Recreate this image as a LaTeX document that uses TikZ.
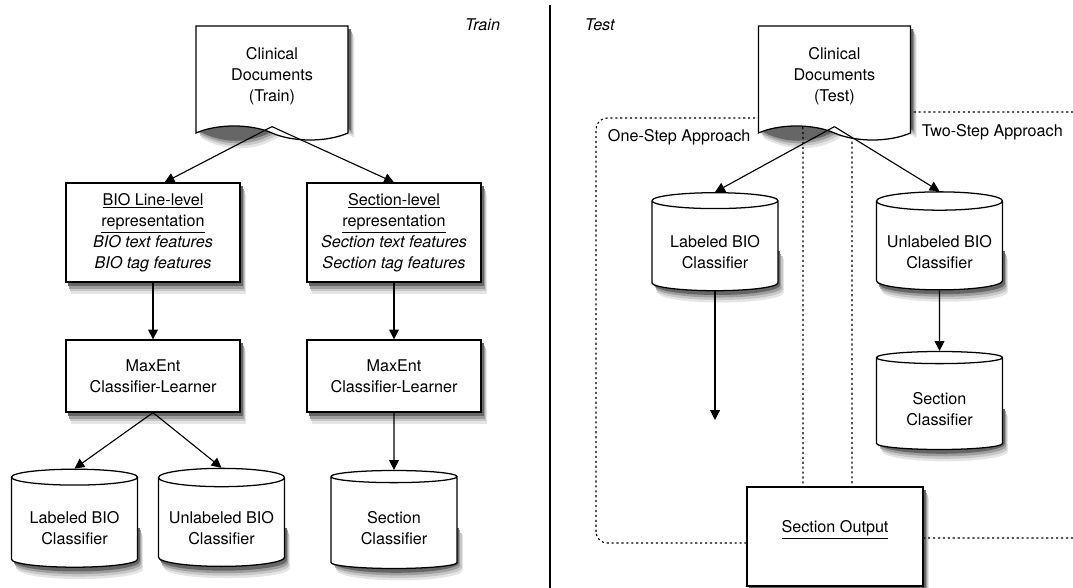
\documentclass[tikz,border=0pt]{standalone}
\usepackage{fontspec}
\setmainfont{TeX Gyre Heros}
\usetikzlibrary{shapes.geometric,shapes.symbols,arrows.meta,backgrounds}

\begin{document}
\begin{tikzpicture}[
		every node/.style={font=\fontsize{11.5pt}{14.9pt}\selectfont, align=center},
		box/.style={draw, line width=0.9pt, fill=white, minimum width=4.35cm},
		doc/.style={tape, draw, line width=0.9pt, fill=white, tape bend top=none, tape bend bottom=out and in, tape bend height=0.35cm, minimum width=3.8cm, minimum height=2.85cm},
		db/.style={cylinder, shape border rotate=90, aspect=0.16, draw, line width=0.9pt, fill=white, minimum width=3.15cm, minimum height=2.45cm, text height=1.05cm},
		region/.style={line width=0.8pt, dash pattern=on 1.5pt off 2pt, rounded corners=8pt},
		arr/.style={-{Triangle[length=7pt,width=7pt]}, line width=0.8pt},
		lbl/.style={font=\fontsize{11.5pt}{14.9pt}\selectfont\itshape}
	]
		\useasboundingbox (0, 0) rectangle (26.825, 14.7);

		\draw[region] (14.9, 1.125) rectangle (20.075, 11.75);
		\draw[region] (27.2, 11.9) -| (21.3, 1.25) -- (27.2, 1.25);
		\draw[line width=0.9pt] (13.75, 14.575) -- (13.75, 0);

		\node[lbl, anchor=east] (trainlbl) at (12.625, 14.075) {Train};
		\node[lbl, anchor=west] (testlbl) at (14.5, 14.075) {Test};

		\node[doc] (doctrain) at (6.8, 12.8) {Clinical\\Documents\\(Train)};
		\node[box, minimum height=2.475cm] (reptrain) at (3.825, 8.8875) {\underline{BIO Line-level}\\\underline{representation}\\\textit{BIO text features}\\\textit{BIO tag features}};
		\node[box, minimum height=2.475cm] (repsec) at (9.85, 8.8875) {\underline{Section-level}\\\underline{representation}\\\textit{Section text features}\\\textit{Section tag features}};
		\node[box, minimum height=1.8cm] (learnbio) at (3.825, 5.3) {MaxEnt\\Classifier-Learner};
		\node[box, minimum height=1.8cm] (learnsec) at (9.85, 5.3) {MaxEnt\\Classifier-Learner};
		\node[db] (labtrain) at (1.8625, 1.6) {Labeled BIO\\Classifier};
		\node[db] (unltrain) at (5.5375, 1.6) {Unlabeled BIO\\Classifier};
		\node[db] (sectrain) at (9.85, 1.6) {Section\\Classifier};

		\node[anchor=west] (onestep) at (15.075, 11.275) {One-Step Approach};
		\node[anchor=west] (twostep) at (22.925, 11.4) {Two-Step Approach};

		\node[doc] (doctest) at (20.86, 12.8) {Clinical\\Documents\\(Test)};
		\node[db] (labtest) at (17.875, 8.5125) {Labeled BIO\\Classifier};
		\node[db] (unltest) at (23.4875, 8.5125) {Unlabeled BIO\\Classifier};
		\node[db] (sectest) at (23.4875, 4.575) {Section\\Classifier};
		\node[box, minimum width=4.4cm, minimum height=2.475cm, text depth=0.5cm] (secout) at (20.875, 1.2875) {\underline{Section Output}};
		\coordinate (lbend) at (17.875, 4.2);

		\begin{scope}[on background layer]
			\foreach \dx/\dy/\c in {4/-8/10, 3.2/-6.2/22, 2.4/-4.4/38, 1.6/-2.6/60} {
				\foreach \n in {reptrain, repsec, learnbio, learnsec, secout}
					\fill[black!\c] ([shift={(\dx pt,\dy pt)}]\n.south west) rectangle ([shift={(\dx pt,\dy pt)}]\n.north east);
				\foreach \n in {labtrain, unltrain, sectrain, labtest, unltest, sectest} {
					\fill[black!\c] ([shift={(\dx pt,\dy pt)}]\n.west) rectangle ([shift={({\dx pt+1.575cm},{\dy pt+0.252cm})}]\n.south);
					\fill[black!\c] ([shift={(\dx pt,{\dy pt+0.252cm})}]\n.south) ellipse (1.575cm and 0.252cm);
				}
				\foreach \n in {doctrain, doctest}
					\fill[black!\c] ([shift={(\dx pt,\dy pt)}]\n.north west) -- ([shift={(\dx pt,\dy pt)}]\n.north east) -- ([shift={(\dx pt,\dy pt)}]\n.south east)
						.. controls +(-0.6,0.35) and +(0.6,0.35) .. ([shift={(\dx pt,\dy pt)}]\n.south)
						.. controls +(-0.6,-0.35) and +(0.6,-0.35) .. ([shift={(\dx pt,\dy pt)}]\n.south west) -- cycle;
			}
		\end{scope}

		\draw[arr] (doctrain.south) -- (reptrain.77);
		\draw[arr] (doctrain.south) -- (repsec.north);
		\draw[arr] (reptrain.south) -- (learnbio.north);
		\draw[arr] (repsec.south) -- (learnsec.north);
		\draw[arr] (learnbio.south) -- (labtrain.north);
		\draw[arr] (learnbio.south) -- (unltrain.north);
		\draw[arr] (learnsec.south) -- (sectrain.north);

		\draw[arr] (doctest.south) -- (labtest.north);
		\draw[arr] (doctest.south) -- (unltest.north);
		\draw[arr] (labtest.south) -- (lbend);
		\draw[arr] (unltest.south) -- (sectest.north);
	\end{tikzpicture}
\end{document}
